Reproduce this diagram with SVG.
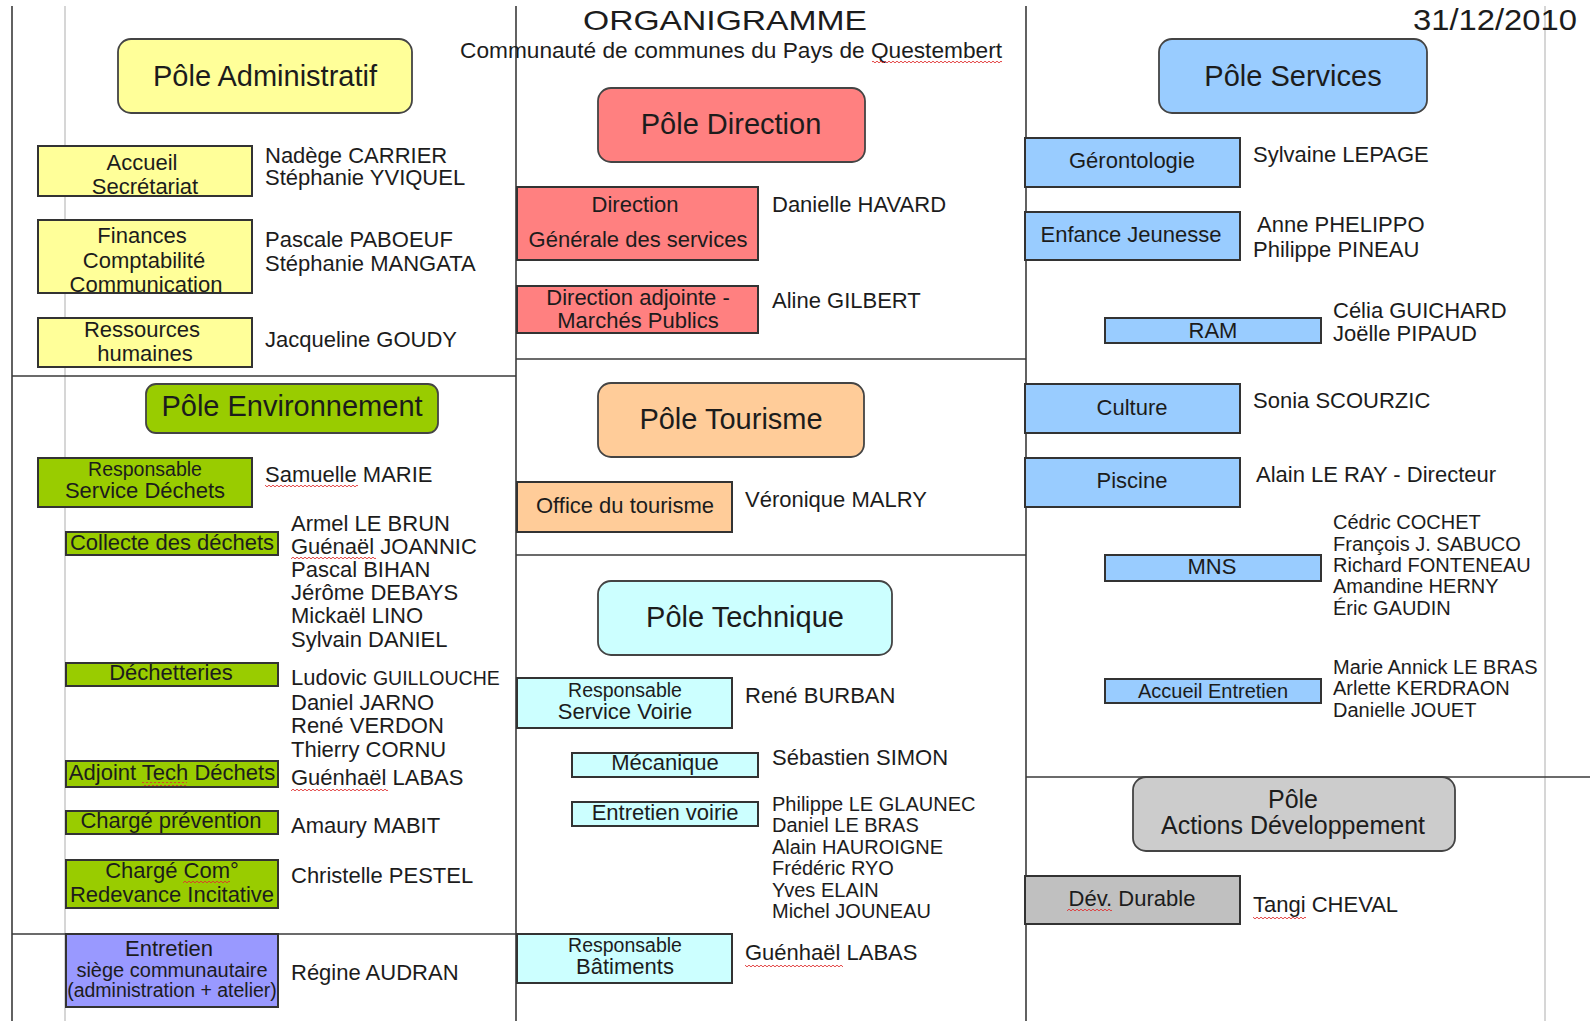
<svg xmlns="http://www.w3.org/2000/svg" width="1590" height="1021" viewBox="0 0 1590 1021">
<defs>
<style>
text{font-family:"Liberation Sans",Arial,sans-serif;fill:#1c1c1c}
.t22{font-size:22px}
.t20{font-size:20px}
.t19{font-size:19.5px}
.pole{font-size:29px;text-anchor:middle}
.c{text-anchor:middle}
.box{stroke:#333;stroke-width:2}
.pbox{stroke:#444;stroke-width:1.8}
.ln{stroke:#3a3a3a;stroke-width:1.6;fill:none}
.gl{stroke:#c8c8c8;stroke-width:1.5;fill:none}
.yel{fill:#ffff99}.red{fill:#ff8080}.grn{fill:#99cc00}.pch{fill:#ffcc99}
.cyn{fill:#ccffff}.blu{fill:#99ccff}.gry{fill:#cccccc}.gr2{fill:#c0c0c0}.pur{fill:#9999ff}
</style>
<pattern id="wave" x="0" y="0" width="4" height="4" patternUnits="userSpaceOnUse">
<path d="M0 2 Q1 0.3 2 2 T4 2" stroke="#e03030" stroke-width="0.9" fill="none"/>
</pattern>
</defs>
<rect width="1590" height="1021" fill="#ffffff"/>

<g id="connectors">
<line class="gl" x1="65" y1="6" x2="65" y2="1021"/>
<line class="gl" x1="1545" y1="6" x2="1545" y2="1021"/>
<line class="ln" x1="12" y1="6" x2="12" y2="1021"/>
<line class="ln" x1="516" y1="6" x2="516" y2="1021"/>
<line class="ln" x1="1026" y1="6" x2="1026" y2="1021"/>
<line class="ln" x1="12" y1="376" x2="516" y2="376"/>
<line class="ln" x1="12" y1="934" x2="516" y2="934"/>
<line class="ln" x1="516" y1="359" x2="1026" y2="359"/>
<line class="ln" x1="516" y1="555" x2="1026" y2="555"/>
<line class="ln" x1="1026" y1="777" x2="1590" y2="777"/>
</g>

<g id="title">
<text x="583" y="30" font-size="28" textLength="284" lengthAdjust="spacingAndGlyphs">ORGANIGRAMME</text>
<text x="460" y="58" font-size="22" textLength="542" lengthAdjust="spacingAndGlyphs">Communauté de communes du Pays de Questembert</text>
<text x="1413" y="30" font-size="29" textLength="164" lengthAdjust="spacingAndGlyphs">31/12/2010</text>
</g>

<!-- Pôle Administratif -->
<g id="pole-administratif">
<rect class="pbox yel" x="118" y="39" width="294" height="74" rx="13"/>
<text class="pole" x="265" y="86">Pôle Administratif</text>
</g>
<g id="accueil-secretariat">
<rect class="box yel" x="38" y="146" width="214" height="50"/>
<text class="t22 c" x="142" y="170">Accueil</text>
<text class="t22 c" x="145" y="194">Secrétariat</text>
<text class="t22" x="265" y="163">Nadège CARRIER</text>
<text class="t22" x="265" y="185">Stéphanie YVIQUEL</text>
</g>
<g id="finances">
<rect class="box yel" x="38" y="220" width="214" height="73"/>
<text class="t22 c" x="142" y="243">Finances</text>
<text class="t22 c" x="144" y="268">Comptabilité</text>
<text class="t22 c" x="146" y="292">Communication</text>
<text class="t22" x="265" y="247">Pascale PABOEUF</text>
<text class="t22" x="265" y="271">Stéphanie MANGATA</text>
</g>
<g id="ressources-humaines">
<rect class="box yel" x="38" y="318" width="214" height="49"/>
<text class="t22 c" x="142" y="337">Ressources</text>
<text class="t22 c" x="145" y="361">humaines</text>
<text class="t22" x="265" y="347">Jacqueline GOUDY</text>
</g>

<!-- Pôle Environnement -->
<g id="pole-environnement">
<rect class="pbox grn" x="146" y="384" width="292" height="49" rx="10"/>
<text class="pole" x="292" y="416">Pôle Environnement</text>
</g>
<g id="responsable-dechets">
<rect class="box grn" x="38" y="458" width="214" height="49"/>
<text class="t19 c" x="145" y="476">Responsable</text>
<text class="t22 c" x="145" y="498">Service Déchets</text>
<text class="t22" x="265" y="482">Samuelle MARIE</text>
</g>
<g id="collecte">
<rect class="box grn" x="66" y="532" width="212" height="23"/>
<text class="t22 c" x="172" y="550">Collecte des déchets</text>
<text class="t22" x="291" y="531">Armel LE BRUN</text>
<text class="t22" x="291" y="554">Guénaël JOANNIC</text>
<text class="t22" x="291" y="577">Pascal BIHAN</text>
<text class="t22" x="291" y="600">Jérôme DEBAYS</text>
<text class="t22" x="291" y="623">Mickaël LINO</text>
<text class="t22" x="291" y="647">Sylvain DANIEL</text>
</g>
<g id="dechetteries">
<rect class="box grn" x="66" y="663" width="212" height="23"/>
<text class="t22 c" x="171" y="680">Déchetteries</text>
<text class="t22" x="291" y="685">Ludovic <tspan font-size="19.5">GUILLOUCHE</tspan></text>
<text class="t22" x="291" y="710">Daniel JARNO</text>
<text class="t22" x="291" y="733">René VERDON</text>
<text class="t22" x="291" y="757">Thierry CORNU</text>
</g>
<g id="adjoint-tech">
<rect class="box grn" x="66" y="761" width="212" height="26"/>
<text class="t22 c" x="172" y="780">Adjoint Tech Déchets</text>
<text class="t22" x="291" y="785">Guénhaël LABAS</text>
</g>
<g id="charge-prevention">
<rect class="box grn" x="66" y="811" width="212" height="23"/>
<text class="t22 c" x="171" y="828">Chargé prévention</text>
<text class="t22" x="291" y="833">Amaury MABIT</text>
</g>
<g id="charge-com">
<rect class="box grn" x="66" y="860" width="212" height="48"/>
<text class="t22 c" x="172" y="878">Chargé Com°</text>
<text class="t22 c" x="172" y="902">Redevance Incitative</text>
<text class="t22" x="291" y="883">Christelle PESTEL</text>
</g>
<g id="entretien-siege">
<rect class="box pur" x="66" y="934" width="212" height="73"/>
<text class="t22 c" x="169" y="956">Entretien</text>
<text class="t20 c" x="172" y="977">siège communautaire</text>
<text class="t19 c" x="172" y="997">(administration + atelier)</text>
<text class="t22" x="291" y="980">Régine AUDRAN</text>
</g>

<!-- Pôle Direction -->
<g id="pole-direction">
<rect class="pbox red" x="598" y="88" width="267" height="74" rx="13"/>
<text class="pole" x="731" y="134">Pôle Direction</text>
</g>
<g id="direction-generale">
<rect class="box red" x="517" y="187" width="241" height="73"/>
<text class="t22 c" x="635" y="212">Direction</text>
<text class="t22 c" x="638" y="247">Générale des services</text>
<text class="t22" x="772" y="212">Danielle HAVARD</text>
</g>
<g id="direction-adjointe">
<rect class="box red" x="517" y="286" width="241" height="47"/>
<text class="t22 c" x="638" y="305">Direction adjointe -</text>
<text class="t22 c" x="638" y="328">Marchés Publics</text>
<text class="t22" x="772" y="308">Aline GILBERT</text>
</g>

<!-- Pôle Tourisme -->
<g id="pole-tourisme">
<rect class="pbox pch" x="598" y="383" width="266" height="74" rx="13"/>
<text class="pole" x="731" y="429">Pôle Tourisme</text>
</g>
<g id="office-tourisme">
<rect class="box pch" x="517" y="482" width="215" height="50"/>
<text class="t22 c" x="625" y="513">Office du tourisme</text>
<text class="t22" x="745" y="507">Véronique MALRY</text>
</g>

<!-- Pôle Technique -->
<g id="pole-technique">
<rect class="pbox cyn" x="598" y="581" width="294" height="74" rx="13"/>
<text class="pole" x="745" y="627">Pôle Technique</text>
</g>
<g id="responsable-voirie">
<rect class="box cyn" x="517" y="678" width="215" height="50"/>
<text class="t19 c" x="625" y="697">Responsable</text>
<text class="t22 c" x="625" y="719">Service Voirie</text>
<text class="t22" x="745" y="703">René BURBAN</text>
</g>
<g id="mecanique">
<rect class="box cyn" x="572" y="753" width="186" height="24"/>
<text class="t22 c" x="665" y="770">Mécanique</text>
<text class="t22" x="772" y="765">Sébastien SIMON</text>
</g>
<g id="entretien-voirie">
<rect class="box cyn" x="572" y="802" width="186" height="24"/>
<text class="t22 c" x="665" y="820">Entretien voirie</text>
<text class="t20" x="772" y="811">Philippe LE GLAUNEC</text>
<text class="t20" x="772" y="832">Daniel LE BRAS</text>
<text class="t20" x="772" y="854">Alain HAUROIGNE</text>
<text class="t20" x="772" y="875">Frédéric RYO</text>
<text class="t20" x="772" y="897">Yves ELAIN</text>
<text class="t20" x="772" y="918">Michel JOUNEAU</text>
</g>
<g id="responsable-batiments">
<rect class="box cyn" x="517" y="934" width="215" height="49"/>
<text class="t19 c" x="625" y="952">Responsable</text>
<text class="t22 c" x="625" y="974">Bâtiments</text>
<text class="t22" x="745" y="960">Guénhaël LABAS</text>
</g>

<!-- Pôle Services -->
<g id="pole-services">
<rect class="pbox blu" x="1159" y="39" width="268" height="74" rx="13"/>
<text class="pole" x="1293" y="86">Pôle Services</text>
</g>
<g id="gerontologie">
<rect class="box blu" x="1025" y="138" width="215" height="49"/>
<text class="t22 c" x="1132" y="168">Gérontologie</text>
<text class="t22" x="1253" y="162">Sylvaine LEPAGE</text>
</g>
<g id="enfance-jeunesse">
<rect class="box blu" x="1025" y="212" width="215" height="48"/>
<text class="t22 c" x="1131" y="242">Enfance Jeunesse</text>
<text class="t22" x="1257" y="232">Anne PHELIPPO</text>
<text class="t22" x="1253" y="257">Philippe PINEAU</text>
</g>
<g id="ram">
<rect class="box blu" x="1105" y="318" width="216" height="25"/>
<text class="t22 c" x="1213" y="338">RAM</text>
<text class="t22" x="1333" y="318">Célia GUICHARD</text>
<text class="t22" x="1333" y="341">Joëlle PIPAUD</text>
</g>
<g id="culture">
<rect class="box blu" x="1025" y="384" width="215" height="49"/>
<text class="t22 c" x="1132" y="415">Culture</text>
<text class="t22" x="1253" y="408">Sonia SCOURZIC</text>
</g>
<g id="piscine">
<rect class="box blu" x="1025" y="458" width="215" height="49"/>
<text class="t22 c" x="1132" y="488">Piscine</text>
<text class="t22" x="1256" y="482">Alain LE RAY - Directeur</text>
</g>
<g id="mns">
<rect class="box blu" x="1105" y="555" width="216" height="26"/>
<text class="t22 c" x="1212" y="574">MNS</text>
<text class="t20" x="1333" y="529">Cédric COCHET</text>
<text class="t20" x="1333" y="551">François J. SABUCO</text>
<text class="t20" x="1333" y="572">Richard FONTENEAU</text>
<text class="t20" x="1333" y="593">Amandine HERNY</text>
<text class="t20" x="1333" y="615">Éric GAUDIN</text>
</g>
<g id="accueil-entretien">
<rect class="box blu" x="1105" y="679" width="216" height="24"/>
<text class="t20 c" x="1213" y="698">Accueil Entretien</text>
<text class="t20" x="1333" y="674">Marie Annick LE BRAS</text>
<text class="t20" x="1333" y="695">Arlette KERDRAON</text>
<text class="t20" x="1333" y="717">Danielle JOUET</text>
</g>

<!-- Pôle Actions Développement -->
<g id="pole-actions-developpement">
<rect class="pbox gry" x="1133" y="777" width="322" height="74" rx="13"/>
<text class="c" font-size="25" x="1293" y="808">Pôle</text>
<text class="c" font-size="25" x="1293" y="834">Actions Développement</text>
</g>
<g id="dev-durable">
<rect class="box gr2" x="1025" y="876" width="215" height="48"/>
<text class="t22 c" x="1132" y="906">Dév. Durable</text>
<text class="t22" x="1253" y="912">Tangi CHEVAL</text>
</g>

<g id="spellcheck-marks" fill="url(#wave)">
<rect x="872" y="60" width="130" height="4"/>
<rect x="265" y="484" width="93" height="4"/>
<rect x="291" y="556" width="85" height="4"/>
<rect x="142" y="782" width="45" height="4"/>
<rect x="291" y="787" width="97" height="4"/>
<rect x="183" y="880" width="47" height="4"/>
<rect x="745" y="963" width="98" height="4"/>
<rect x="1067" y="907" width="45" height="4"/>
<rect x="1253" y="915" width="53" height="4"/>
</g>
</svg>
